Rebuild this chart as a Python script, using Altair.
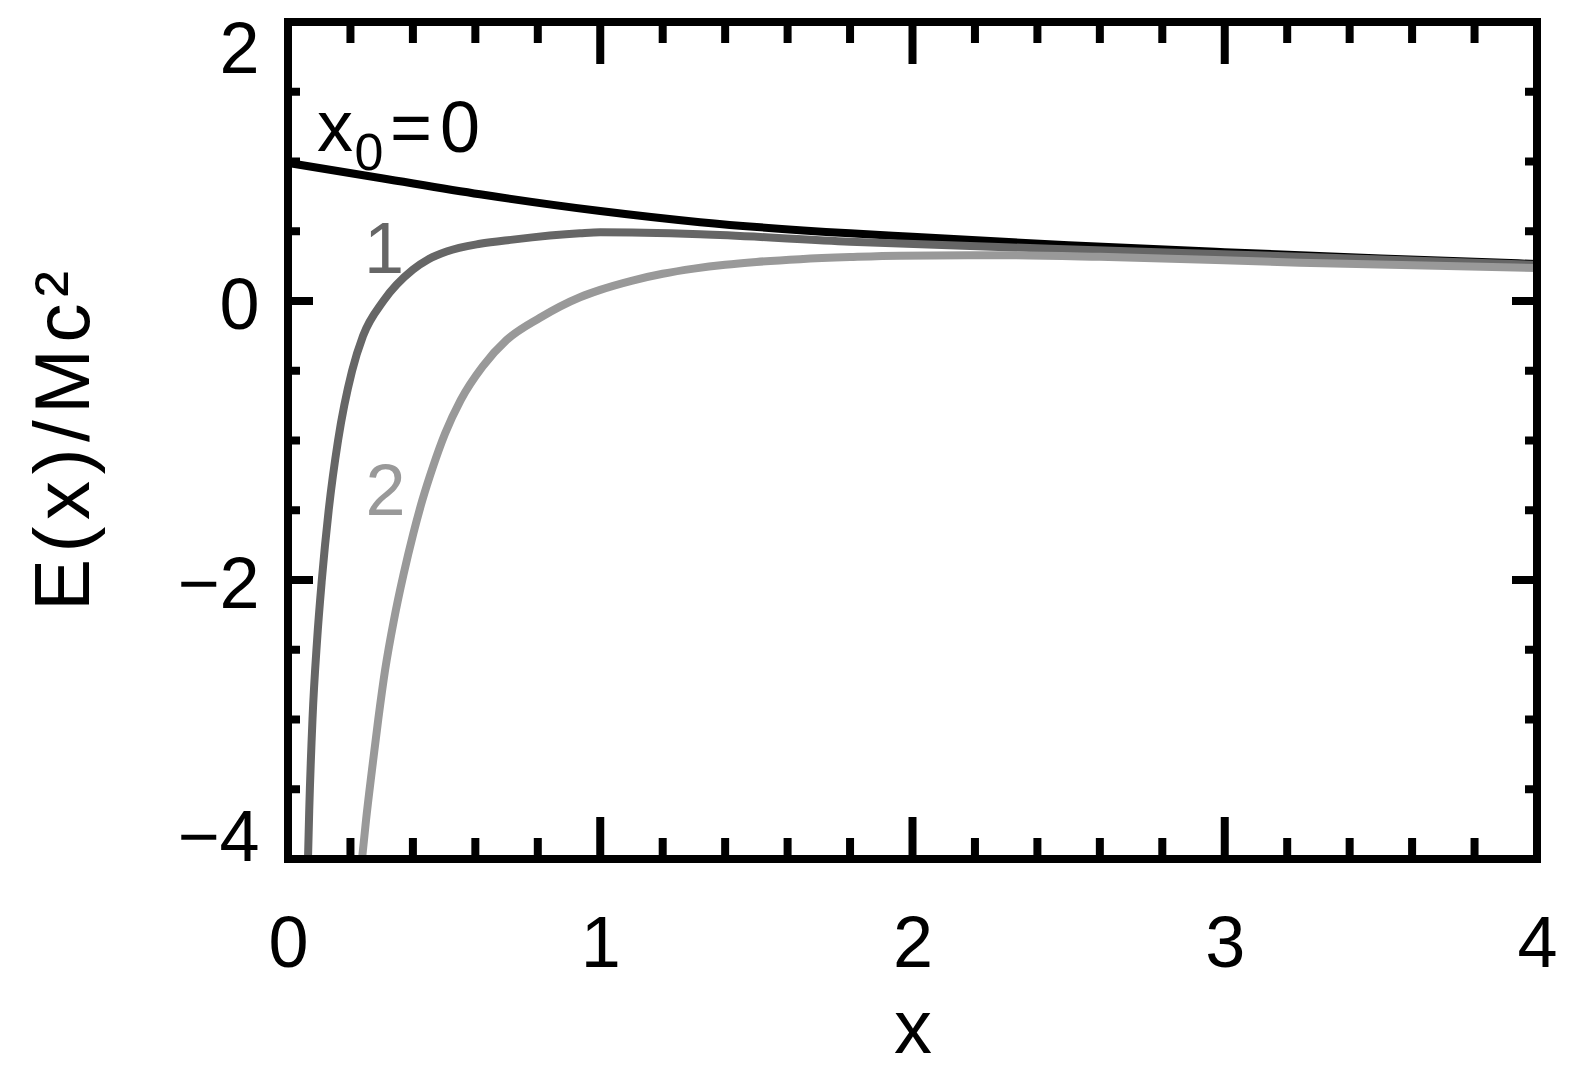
import altair as alt
import pandas as pd

# ---- data ----
# x0 = 0 (black)
x0_x = [0.0, 0.3, 0.615, 1.0, 1.32, 1.8, 2.0, 2.5, 3.0, 3.5, 4.0]
x0_e = [0.99, 0.88, 0.765, 0.645, 0.565, 0.485, 0.46, 0.40, 0.35, 0.305, 0.265]
# x0 = 1 (dark grey)
x1_x = [0.064, 0.068, 0.0784, 0.0932, 0.1083, 0.1303, 0.1603, 0.2053, 0.2403, 0.3053,
        0.40, 0.45, 0.508, 0.615, 0.72, 0.935, 1.0, 1.32, 1.8, 2.44, 3.24, 4.0]
x1_e = [-4.0, -3.65, -3.0, -2.43, -2.0, -1.5, -1.0, -0.5, -0.25, 0.0,
        0.225, 0.30, 0.355, 0.41, 0.44, 0.485, 0.492, 0.478, 0.425, 0.375, 0.318, 0.258]
# x0 = 2 (light grey)
x2_x = [0.238, 0.250, 0.269, 0.289, 0.311, 0.339, 0.370, 0.401, 0.430, 0.464, 0.503,
        0.553, 0.623, 0.70, 0.807, 0.935, 1.0, 1.1, 1.2, 1.3, 1.4, 1.5, 1.64, 1.8,
        1.96, 2.28, 2.6, 3.24, 4.0]
x2_e = [-3.98, -3.72, -3.36, -3.0, -2.645, -2.29, -1.96, -1.67, -1.43, -1.19, -0.95,
        -0.71, -0.47, -0.28, -0.12, 0.027, 0.08, 0.145, 0.195, 0.232, 0.26, 0.28, 0.30,
        0.315, 0.325, 0.328, 0.317, 0.275, 0.237]

x_major = [0, 1, 2, 3, 4]
x_minor = [0.2, 0.4, 0.6, 0.8, 1.2, 1.4, 1.6, 1.8, 2.2, 2.4, 2.6, 2.8,
           3.2, 3.4, 3.6, 3.8]
y_major = [-4, -2, 0, 2]
y_minor = [-3.5, -3, -2.5, -1.5, -1, -0.5, 0.5, 1, 1.5]

# annotation texts and their anchor points (data coordinates)
ann_text = ["x", "0", "=", "0", "1", "2"]
ann_x = [0.1505, 0.2594, 0.394, 0.551, 0.3075, 0.3123]
ann_y = [1.077, 0.939, 1.07, 1.07, 0.2007, -1.534]

# ---- layout ----
W, H = 1249, 837
FONT = "Liberation Sans"
HS = "\u200a"

xs = alt.Scale(domain=[0, 4], nice=False, zero=False)
ys = alt.Scale(domain=[-4, 2], nice=False, zero=False)

x_axis = alt.Axis(values=x_major, domain=False, ticks=False, tickSize=0, grid=False,
                  labelFontSize=72, labelFont=FONT, labelColor="black",
                  labelPadding=50, labelFlush=False,
                  title="x", titleFontSize=76, titleFont=FONT, titleFontWeight="normal",
                  titleColor="black", titleBaseline="alphabetic", titleY=193)
y_axis = alt.Axis(values=y_major, domain=False, ticks=False, tickSize=0, grid=False,
                  labelFontSize=72, labelFont=FONT, labelColor="black",
                  labelPadding=29, labelFlush=True, labelFlushOffset=11.5,
                  labelOffset=5,
                  title=HS.join(["E", "(", "x", ")", "/", "M", "c", "\u00b2"]),
                  titleFontSize=78, titleFont=FONT, titleFontWeight="normal",
                  titleColor="black", titleBaseline="alphabetic", titleX=-200,
                  titleAngle=270)

X = alt.X("x:Q", scale=xs, axis=x_axis)
Y = alt.Y("y:Q", scale=ys, axis=y_axis)


def line(xv, ev, color):
    df = pd.DataFrame({"x": xv, "y": ev})
    return alt.Chart(df).mark_line(color=color, strokeWidth=8, clip=True,
                                   interpolate="monotone", strokeCap="butt").encode(x=X, y=Y)


layers = [line(x0_x, x0_e, "#000000"), line(x1_x, x1_e, "#666666"),
          line(x2_x, x2_e, "#999999")]


def xticks(vals, length):
    df = pd.DataFrame({"x": vals})
    bot = alt.Chart(df).mark_rule(color="black", strokeWidth=8, strokeCap="butt").encode(
        x=X, y=alt.value(H), y2=alt.value(H - length))
    top = alt.Chart(df).mark_rule(color="black", strokeWidth=8, strokeCap="butt").encode(
        x=X, y=alt.value(0), y2=alt.value(length))
    return [bot, top]


def yticks(vals, length):
    df = pd.DataFrame({"y": vals})
    left = alt.Chart(df).mark_rule(color="black", strokeWidth=8, strokeCap="butt").encode(
        y=Y, x=alt.value(0), x2=alt.value(length))
    right = alt.Chart(df).mark_rule(color="black", strokeWidth=8, strokeCap="butt").encode(
        y=Y, x=alt.value(W), x2=alt.value(W - length))
    return [left, right]


layers += xticks(x_minor, 21) + xticks(x_major[1:-1], 42)
layers += yticks(y_minor, 12) + yticks(y_major[1:-1], 25)

frame = alt.Chart(alt.Data(values=[{"a": 1}])).mark_rect(
    fillOpacity=0, stroke="black", strokeWidth=8).encode(
    x=alt.value(0), x2=alt.value(W), y=alt.value(0), y2=alt.value(H))
layers.append(frame)

ann_style = [(72, "black"), (52, "black"), (72, "black"), (72, "black"),
             (72, "#666666"), (72, "#999999")]
for t, ax, ay, (fs, col) in zip(ann_text, ann_x, ann_y, ann_style):
    df = pd.DataFrame({"x": [ax], "y": [ay], "t": [t]})
    layers.append(alt.Chart(df).mark_text(fontSize=fs, color=col, font=FONT,
                                          align="center", baseline="alphabetic").encode(
        x=X, y=Y, text="t:N"))

chart = alt.layer(*layers).properties(
    width=W, height=H,
    autosize=alt.AutoSizeParams(type="none"),
    padding={"left": 280, "top": 14, "right": 26, "bottom": 209},
    background="white",
).configure_view(strokeWidth=0)

chart.save("out.html", embed_options={"renderer": "svg", "actions": False})
